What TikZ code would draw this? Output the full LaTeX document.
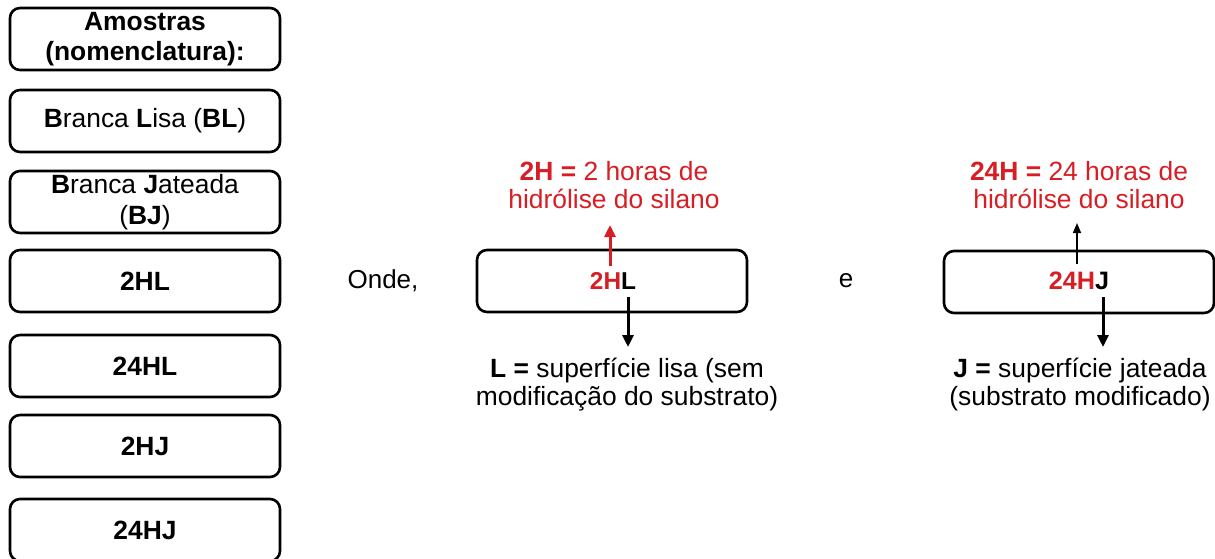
\documentclass[tikz,border=0pt]{standalone}
\usepackage{fontspec}
\setmainfont{Liberation Sans}
\usetikzlibrary{arrows.meta}
\definecolor{hred}{RGB}{214,30,36}
\tikzset{
    sample/.style={draw, line width=1.3pt, rounded corners=5pt, minimum width=135pt, minimum height=31pt, align=center, font=\fontsize{13.2}{15}\selectfont\bfseries, inner sep=1pt}, % caixas da esquerda
    codebox/.style={draw, line width=1.3pt, rounded corners=5pt, minimum width=135pt, minimum height=31pt}, % caixas do meio
    note/.style={align=center, font=\fontsize{13.2}{14}\selectfont, inner sep=0pt}, % textos explicativos
    fat/.style={line width=1.5pt, -{Triangle[length=6pt, width=5.5pt]}},
    thin/.style={line width=0.8pt, -{Triangle[length=5pt, width=4pt]}}
}

\begin{document}
\begin{tikzpicture}[x=0.5pt, y=-0.5pt]
            \useasboundingbox (0,0) rectangle (1215,558);

            \node[sample] (amostras) at (145,39) {Amostras\\(nomenclatura):};
            \node[sample, font=\fontsize{13.2}{15.5}\selectfont] (bl) at (145,121) {\textbf{B}ranca \textbf{L}isa (\textbf{BL})};
            \node[sample, font=\fontsize{13.2}{15.5}\selectfont] (bj) at (145,202) {\textbf{B}ranca \textbf{J}ateada\\(\textbf{BJ})};
            \node[sample] (s2hl) at (145,281) {2HL};
            \node[sample] (s24hl) at (145,366) {24HL};
            \node[sample] (s2hj) at (145,446) {2HJ};
            \node[sample] (s24hj) at (145,530) {24HJ};

            \node[note, font=\fontsize{13}{14}\selectfont] (onde) at (383,281) {Onde,};
            \node[note, font=\fontsize{13}{14}\selectfont] (e) at (846,281) {e};

            % 2HL
            \node[codebox] (boxL) at (612,281) {};
            \node[note, font=\fontsize{12.2}{14}\selectfont\bfseries] (codeL) at (613,281) {\textcolor{hred}{2H}L};
            \node[note, text=hred, anchor=south] (horasL) at (614,209) {\textbf{2H =} 2 horas de\\hidrólise do silano};
            \node[note, anchor=north] (lisa) at (627,358) {\textbf{L =} superfície lisa (sem\\modificação do substrato)};
            \coordinate (upL) at (610,266);
            \coordinate (dnL) at (628,297);
            \draw[fat, hred] (upL) -- ([yshift=-8pt]upL |- horasL.south);
            \draw[fat] (dnL) -- ([yshift=5.5pt]dnL |- lisa.north);

            % 24HJ
            \node[codebox] (boxJ) at (1079,282) {};
            \node[note, font=\fontsize{12.6}{14}\selectfont\bfseries] (codeJ) at (1079,281) {\textcolor{hred}{24H}J};
            \node[note, text=hred, anchor=south] (horasJ) at (1079,209) {\textbf{24H =} 24 horas de\\hidrólise do silano};
            \node[note, anchor=north] (jateada) at (1080,358) {\textbf{J =} superfície jateada\\(substrato modificado)};
            \coordinate (upJ) at (1077,264);
            \coordinate (dnJ) at (1103,297);
            \draw[thin] (upJ) -- ([yshift=-7pt]upJ |- horasJ.south);
            \draw[fat] (dnJ) -- ([yshift=5.5pt]dnJ |- jateada.north);
        \end{tikzpicture}
\end{document}
